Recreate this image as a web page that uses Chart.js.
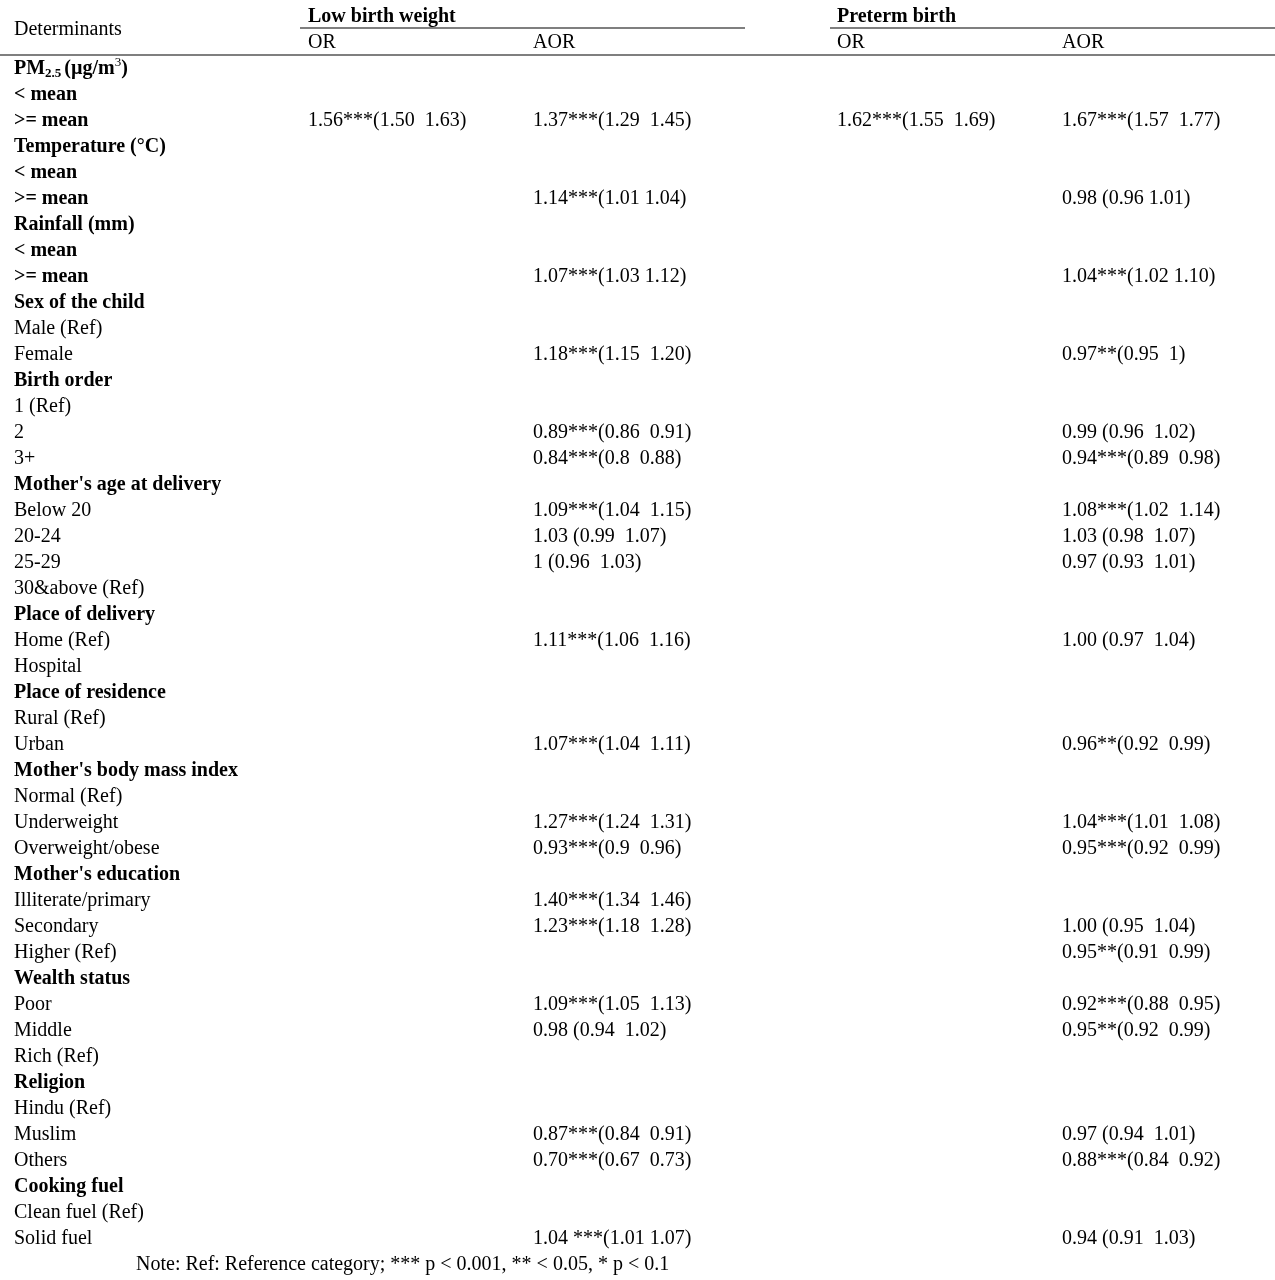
<!DOCTYPE html>
<html><head><meta charset="utf-8">
<script src="https://cdn.jsdelivr.net/npm/chart.js@4"></script>
<style>html,body{margin:0;padding:0;background:#fff}#w{width:1275px;height:1280px}</style>
</head><body><div id="w"><canvas id="c"></canvas></div>
<script>
const rowLabels = ["Header1","Header2",
"PM2.5 (µg/m3)","< mean",">= mean","Temperature (°C)","< mean",">= mean","Rainfall (mm)","< mean",">= mean",
"Sex of the child","Male (Ref)","Female","Birth order","1 (Ref)","2","3+",
"Mother's age at delivery","Below 20","20-24","25-29","30&above (Ref)",
"Place of delivery","Home (Ref)","Hospital","Place of residence","Rural (Ref)","Urban",
"Mother's body mass index","Normal (Ref)","Underweight","Overweight/obese",
"Mother's education","Illiterate/primary","Secondary","Higher (Ref)",
"Wealth status","Poor","Middle","Rich (Ref)","Religion","Hindu (Ref)","Muslim","Others",
"Cooking fuel","Clean fuel (Ref)","Solid fuel","Note"];
const boldRows = ["PM2.5 (µg/m3)","Temperature (°C)","Rainfall (mm)","Sex of the child","Birth order","Mother's age at delivery","Place of delivery","Place of residence","Mother's body mass index","Mother's education","Wealth status","Religion","Cooking fuel"];
const boldIdx = [3,4,6,7,9,10]; // "< mean" / ">= mean" rows are bold
const lbwOR = {4:"1.56***(1.50  1.63)"};
const lbwAOR = {4:"1.37***(1.29  1.45)",7:"1.14***(1.01 1.04)",10:"1.07***(1.03 1.12)",13:"1.18***(1.15  1.20)",
16:"0.89***(0.86  0.91)",17:"0.84***(0.8  0.88)",19:"1.09***(1.04  1.15)",20:"1.03 (0.99  1.07)",21:"1 (0.96  1.03)",
24:"1.11***(1.06  1.16)",28:"1.07***(1.04  1.11)",31:"1.27***(1.24  1.31)",32:"0.93***(0.9  0.96)",
34:"1.40***(1.34  1.46)",35:"1.23***(1.18  1.28)",38:"1.09***(1.05  1.13)",39:"0.98 (0.94  1.02)",
43:"0.87***(0.84  0.91)",44:"0.70***(0.67  0.73)",47:"1.04 ***(1.01 1.07)"};
const ptbOR = {4:"1.62***(1.55  1.69)"};
const ptbAOR = {4:"1.67***(1.57  1.77)",7:"0.98 (0.96 1.01)",10:"1.04***(1.02 1.10)",13:"0.97**(0.95  1)",
16:"0.99 (0.96  1.02)",17:"0.94***(0.89  0.98)",19:"1.08***(1.02  1.14)",20:"1.03 (0.98  1.07)",21:"0.97 (0.93  1.01)",
24:"1.00 (0.97  1.04)",28:"0.96**(0.92  0.99)",31:"1.04***(1.01  1.08)",32:"0.95***(0.92  0.99)",
35:"1.00 (0.95  1.04)",36:"0.95**(0.91  0.99)",38:"0.92***(0.88  0.95)",39:"0.95**(0.92  0.99)",
43:"0.97 (0.94  1.01)",44:"0.88***(0.84  0.92)",47:"0.94 (0.91  1.03)"};
const noteText = "Note: Ref: Reference category; *** p < 0.001, ** < 0.05, * p < 0.1";
const colX = [14,308,533,837,1062];

const F = (b,s)=>(b?"bold ":"")+(s||20)+"px 'Liberation Serif', 'Times New Roman', serif";
const tablePlugin = {id:'tbl', afterDraw(chart){
  const ctx=chart.ctx, y=chart.scales.y, x=chart.scales.x;
  const px=v=>x.getPixelForValue(v);
  ctx.save(); ctx.fillStyle='#000'; ctx.textBaseline='middle'; ctx.textAlign='left';
  const yp=i=>y.getPixelForValue(i);
  // header
  ctx.font=F(false); ctx.fillText("Determinants",px(colX[0]),(yp(0)+yp(1))/2);
  ctx.font=F(true); ctx.fillText("Low birth weight",px(colX[1]),yp(0)); ctx.fillText("Preterm birth",px(colX[3]),yp(0));
  ctx.font=F(false);
  ["OR","AOR","OR","AOR"].forEach((t,k)=>ctx.fillText(t,px(colX[k+1]),yp(1)));
  ctx.strokeStyle='#000'; ctx.lineWidth=1.2;
  const l1=(yp(0)+yp(1))/2-2, l2=(yp(1)+yp(2))/2-1;
  ctx.beginPath(); ctx.moveTo(px(300),l1); ctx.lineTo(px(745),l1); ctx.moveTo(px(830),l1); ctx.lineTo(px(1275),l1);
  ctx.moveTo(px(0),l2); ctx.lineTo(px(1275),l2); ctx.stroke();
  for(let i=2;i<rowLabels.length-1;i++){
    const lab=rowLabels[i], b=boldRows.includes(lab)||boldIdx.includes(i), yy=yp(i);
    if(i===2){
      let xx=px(colX[0]); ctx.font=F(true); ctx.fillText("PM",xx,yy); xx+=ctx.measureText("PM").width;
      ctx.font=F(true,13); ctx.fillText("2.5",xx,yy+5); xx+=ctx.measureText("2.5").width+3;
      ctx.font=F(true); ctx.fillText("(µg/m",xx,yy); xx+=ctx.measureText("(µg/m").width;
      ctx.font=F(false,13); ctx.fillText("3",xx,yy-6); xx+=ctx.measureText("3").width;
      ctx.font=F(true); ctx.fillText(")",xx,yy);
    } else { ctx.font=F(b); ctx.fillText(lab,px(colX[0]),yy); }
    ctx.font=F(false);
    [lbwOR,lbwAOR,ptbOR,ptbAOR].forEach((m,k)=>{ if(m[i]) ctx.fillText(m[i],px(colX[k+1]),yy); });
  }
  ctx.font=F(false); ctx.fillText(noteText,px(136),yp(rowLabels.length-1));
  ctx.restore();
}};
new Chart(document.getElementById('c'),{
  type:'bar',
  data:{labels:rowLabels,datasets:[{data:rowLabels.map(()=>null)}]},
  options:{responsive:true,maintainAspectRatio:false,animation:false,indexAxis:'y',
    layout:{padding:{top:4,bottom:2,left:0,right:0}},
    plugins:{legend:{display:false},tooltip:{enabled:false}},
    scales:{x:{type:'linear',min:0,max:1275,display:false},y:{type:'category',display:false,offset:true}}},
  plugins:[tablePlugin]
});
</script></body></html>
